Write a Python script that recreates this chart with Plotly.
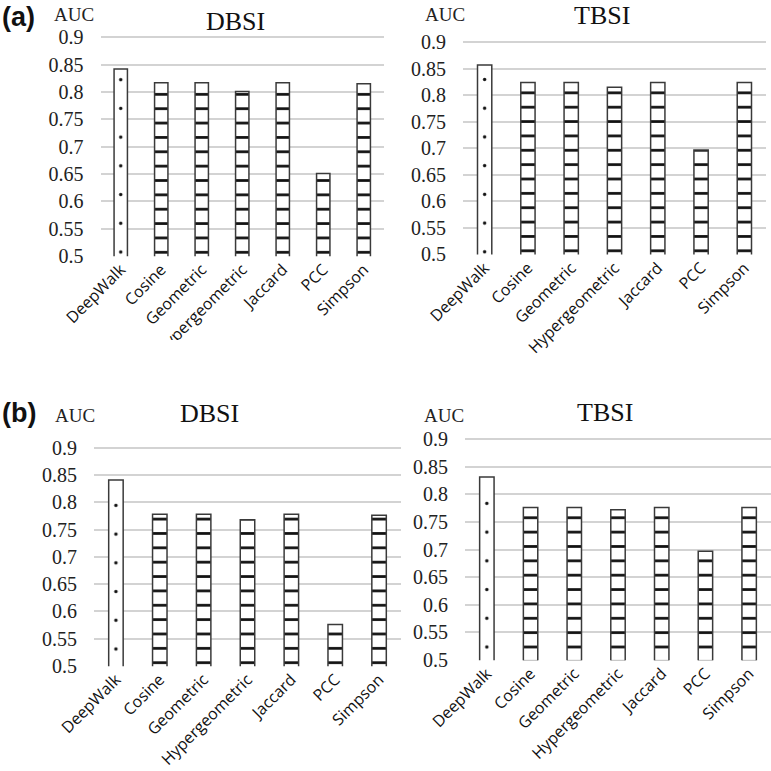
import plotly.graph_objects as go

categories = ["DeepWalk", "Cosine", "Geometric", "Hypergeometric", "Jaccard", "PCC", "Simpson"]
auc_a_dbsi = [0.842, 0.817, 0.817, 0.801, 0.817, 0.651, 0.815]
auc_a_tbsi = [0.857, 0.824, 0.824, 0.815, 0.824, 0.697, 0.824]
auc_b_dbsi = [0.841, 0.778, 0.778, 0.768, 0.778, 0.576, 0.776]
auc_b_tbsi = [0.831, 0.776, 0.776, 0.772, 0.776, 0.697, 0.776]
y_tick_vals = [0.5, 0.55, 0.6, 0.65, 0.7, 0.75, 0.8, 0.85, 0.9]
y_tick_text = ["0.5", "0.55", "0.6", "0.65", "0.7", "0.75", "0.8", "0.85", "0.9"]

W = H = 771
Y_LO = 0.4995
STRIPE = 14.36          # stripe pattern spacing (px)
DOT = 2 * STRIPE        # dot pattern spacing (px)
SERIF = "Times New Roman, Liberation Serif, serif"
SANS = "Open Sans"

# panel geometry in pixels
panels = [
    dict(vals=auc_a_dbsi, x0=100.5, x1=384.0, p9=37.3, p5=256.0, s_off=3.7, d_off=4.0),
    dict(vals=auc_a_tbsi, x0=463.0, x1=766.0, p9=42.3, p5=254.3, s_off=3.5, d_off=2.5),
    dict(vals=auc_b_dbsi, x0=94.0, x1=401.0, p9=447.7, p5=666.0, s_off=3.3, d_off=17.0),
    dict(vals=auc_b_tbsi, x0=465.0, x1=771.0, p9=439.0, p5=660.0, s_off=13.0, d_off=13.0),
]

BAR_W = 0.33
LINE = dict(color="#3a3a3a", width=1.5)

fig = go.Figure()
layout = {}
for i, p in enumerate(panels):
    n_main = "" if i == 0 else str(i + 1)
    n_dw = str(i + 5)
    ppu = (p["p5"] - p["p9"]) / 0.4
    bot_px = p["p5"] - (Y_LO - 0.5) * ppu

    # main subplot: top chosen so that the stripe pattern lines up like the reference
    top_main = p["p5"] - p["s_off"] - STRIPE / 2 - STRIPE * 15
    y_hi_main = 0.5 + (p["p5"] - top_main) / ppu
    xdom = [p["x0"] / W, min(p["x1"] / W, 1.0)]
    layout["xaxis" + n_main] = dict(
        domain=xdom, anchor="y" + n_main, type="category",
        range=[-0.5, 6.5], showgrid=False, showline=False, zeroline=False,
        ticks="", tickangle=-45, automargin=False,
        tickfont=dict(family=SANS, size=16, color="#111"),
    )
    layout["yaxis" + n_main] = dict(
        domain=[1 - bot_px / H, 1 - top_main / H], anchor="x" + n_main,
        range=[Y_LO, y_hi_main],
        tickvals=y_tick_vals, ticktext=y_tick_text,
        showgrid=True, gridcolor="#d3d3d3", gridwidth=2,
        zeroline=False, showline=False, ticks="", automargin=False,
        ticklabelstandoff=16,
        tickfont=dict(family=SERIF, size=20, color="#222"),
    )

    # overlay subplot for the DeepWalk dot pattern (aligned to the bar centre)
    cat_w = (p["x1"] - p["x0"]) / 7.0
    centre = p["x0"] + 0.5 * cat_w
    x0_dw = centre - DOT / 2
    r0_dw = -(DOT / 2) / cat_w
    top_dw = p["p5"] - p["d_off"] - DOT / 2 - DOT * 7
    y_hi_dw = 0.5 + (p["p5"] - top_dw) / ppu
    layout["xaxis" + n_dw] = dict(
        domain=[x0_dw / W, min(p["x1"] / W, 1.0)], anchor="y" + n_dw,
        type="category", range=[r0_dw, 6.5], visible=False, automargin=False,
    )
    layout["yaxis" + n_dw] = dict(
        domain=[1 - bot_px / H, 1 - top_dw / H], anchor="x" + n_dw,
        range=[Y_LO, y_hi_dw], visible=False, showgrid=False, automargin=False,
    )

    vals = p["vals"]
    # DeepWalk bar outline on the main axes
    fig.add_trace(go.Bar(
        x=categories[:1], y=vals[:1], xaxis="x" + n_main, yaxis="y" + n_main,
        width=BAR_W, showlegend=False, hoverinfo="skip",
        marker=dict(color="white", line=LINE),
    ))
    # similarity-index bars (horizontal stripe pattern)
    fig.add_trace(go.Bar(
        x=categories[1:], y=vals[1:], xaxis="x" + n_main, yaxis="y" + n_main,
        width=BAR_W, showlegend=False,
        marker=dict(color="white", line=LINE,
                    pattern=dict(shape="-", size=STRIPE, solidity=0.19,
                                 fgcolor="#111", bgcolor="white", fillmode="replace")),
    ))
    # DeepWalk dot pattern
    fig.add_trace(go.Bar(
        x=categories[:1], y=vals[:1], xaxis="x" + n_dw, yaxis="y" + n_dw,
        width=BAR_W * 0.8, showlegend=False,
        marker=dict(color="rgba(0,0,0,0)", line=dict(width=0),
                    pattern=dict(shape=".", size=DOT, solidity=0.011,
                                 fgcolor="#111", bgcolor="rgba(0,0,0,0)",
                                 fillmode="replace")),
    ))

annotations = [
    dict(text="<b>(a)</b>", x=0, y=1 - 17 / H, xanchor="left", yanchor="middle",
         font=dict(family="Liberation Sans", size=27, color="#111")),
    dict(text="<b>(b)</b>", x=0, y=1 - 413 / H, xanchor="left", yanchor="middle",
         font=dict(family="Liberation Sans", size=27, color="#111")),
    dict(text="AUC", x=52 / W, y=1 - 14 / H, xanchor="left", yanchor="middle",
         font=dict(family=SERIF, size=19, color="#222")),
    dict(text="AUC", x=423 / W, y=1 - 14 / H, xanchor="left", yanchor="middle",
         font=dict(family=SERIF, size=19, color="#222")),
    dict(text="AUC", x=53 / W, y=1 - 415 / H, xanchor="left", yanchor="middle",
         font=dict(family=SERIF, size=19, color="#222")),
    dict(text="AUC", x=422 / W, y=1 - 415 / H, xanchor="left", yanchor="middle",
         font=dict(family=SERIF, size=19, color="#222")),
    dict(text="DBSI", x=235 / W, y=1 - 21 / H, xanchor="center", yanchor="middle",
         font=dict(family=SERIF, size=26, color="#111")),
    dict(text="TBSI", x=602 / W, y=1 - 15 / H, xanchor="center", yanchor="middle",
         font=dict(family=SERIF, size=26, color="#111")),
    dict(text="DBSI", x=210 / W, y=1 - 413 / H, xanchor="center", yanchor="middle",
         font=dict(family=SERIF, size=26, color="#111")),
    dict(text="TBSI", x=605 / W, y=1 - 412 / H, xanchor="center", yanchor="middle",
         font=dict(family=SERIF, size=26, color="#111")),
]
for a in annotations:
    a.update(xref="paper", yref="paper", showarrow=False)

# the lower part of panel (a)'s left label row is hidden by panel (b) in the reference
shapes = [
    dict(type="rect", xref="paper", yref="paper", layer="above",
         x0=0, x1=390 / W, y0=1 - 378 / H, y1=1 - 340 / H,
         fillcolor="white", line=dict(width=0)),
]

fig.update_layout(
    width=W, height=H, margin=dict(l=0, r=0, t=0, b=0, autoexpand=False),
    paper_bgcolor="white", plot_bgcolor="rgba(0,0,0,0)",
    font=dict(family=SERIF, color="#222"),
    annotations=annotations, shapes=shapes, barmode="overlay",
    **layout,
)
fig.write_html(
    "out.html",
    config={"displayModeBar": False},
    post_script="document.body.style.margin='0';document.body.style.padding='0';"
                "document.body.style.overflow='hidden';",
)
